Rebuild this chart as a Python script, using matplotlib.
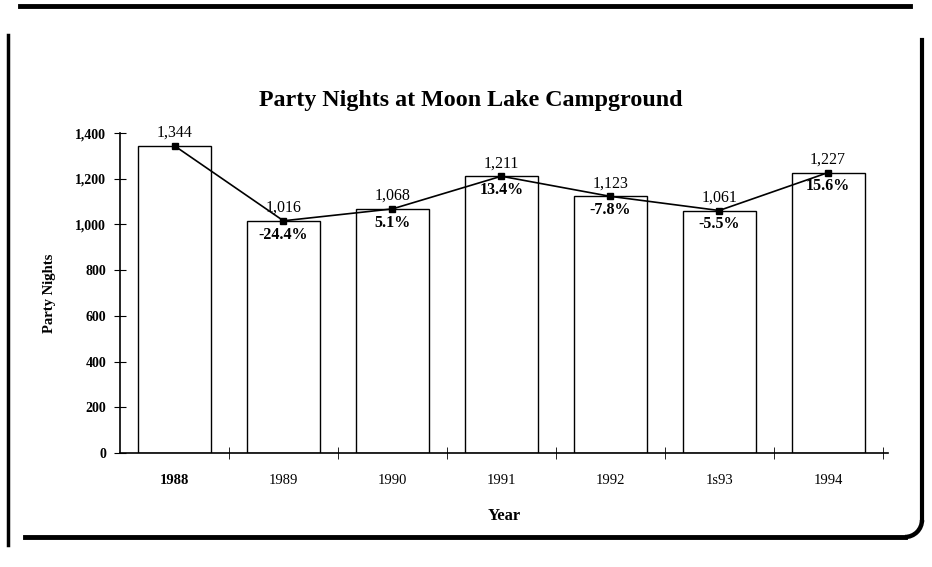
import matplotlib.pyplot as plt
from matplotlib.lines import Line2D
from matplotlib.patches import Arc

# data
years = ["1988", "1989", "1990", "1991", "1992", "1s93", "1994"]
nights = [1344, 1016, 1068, 1211, 1123, 1061, 1227]
value_labels = ["1,344", "1,016", "1,068", "1,211", "1,123", "1,061", "1,227"]
pct_labels = ["", "-24.4%", "5.1%", "13.4%", "-7.8%", "-5.5%", "15.6%"]
yticks = [0, 200, 400, 600, 800, 1000, 1200, 1400]
ytick_labels = ["0", "200", "400", "600", "800", "1,000", "1,200", "1,400"]

plt.rcParams["font.family"] = ["Liberation Serif", "DejaVu Serif"]

fig = plt.figure(figsize=(9.32, 5.67), dpi=100)
ax = fig.add_axes([0.1288, 0.201, 0.824, 0.5644])

x = list(range(len(years)))
ax.bar(x, nights, width=0.67, color="white", edgecolor="black", linewidth=1.0, zorder=2)
ax.plot(x, nights, color="black", lw=1.2, marker="s", ms=5, zorder=4)

for i, v in enumerate(nights):
    ax.text(i, v + 22, value_labels[i], ha="center", va="bottom", fontsize=11.5,
            zorder=5, clip_on=False)
    if pct_labels[i]:
        ax.text(i, v - 25, pct_labels[i], ha="center", va="top", fontsize=11.5,
                fontweight="bold", zorder=5)

ax.set_xlim(-0.5, 6.55)
ax.set_ylim(0, 1400)
ax.set_yticks(yticks)
ax.set_yticklabels(ytick_labels, fontweight="bold", fontsize=10)
ax.set_xticks(x)
ax.set_xticklabels(years, fontsize=10.5)
ax.get_xticklabels()[0].set_fontweight("bold")
ax.set_xticks([i + 0.5 for i in range(7)], minor=True)
ax.tick_params(axis="x", which="major", length=0, pad=15)
ax.tick_params(axis="x", which="minor", length=8, direction="inout")
ax.tick_params(axis="y", length=8, direction="inout", pad=6)

for s in ["top", "right"]:
    ax.spines[s].set_visible(False)
ax.spines["left"].set_linewidth(1.2)
ax.spines["bottom"].set_linewidth(1.2)

ax.set_ylabel("Party Nights", fontweight="bold", fontsize=10.5, labelpad=14)
ax.set_xlabel("Year", fontweight="bold", fontsize=12, labelpad=15)

fig.text(0.505, 0.822, "Party Nights at Moon Lake Campground", ha="center", va="center",
         fontsize=17.3, fontweight="bold")

# document frame around the chart
W, H = 932, 567
def fx(px):
    return px / W
def fy(py):
    return 1 - py / H

fig.add_artist(Line2D([fx(20), fx(910)], [fy(6), fy(6)], color="black", lw=3.5))
fig.add_artist(Line2D([fx(8), fx(8)], [fy(35), fy(545)], color="black", lw=2.5))
fig.add_artist(Line2D([fx(25), fx(905)], [fy(537), fy(537)], color="black", lw=3.5))
fig.add_artist(Line2D([fx(922), fx(922)], [fy(40), fy(520)], color="black", lw=3))
fig.add_artist(Arc((fx(905), fy(520)), 2 * 17 / W, 2 * 17 / H, theta1=270, theta2=360,
                   transform=fig.transFigure, color="black", lw=3.2))

fig.savefig("out.png", dpi=100)
